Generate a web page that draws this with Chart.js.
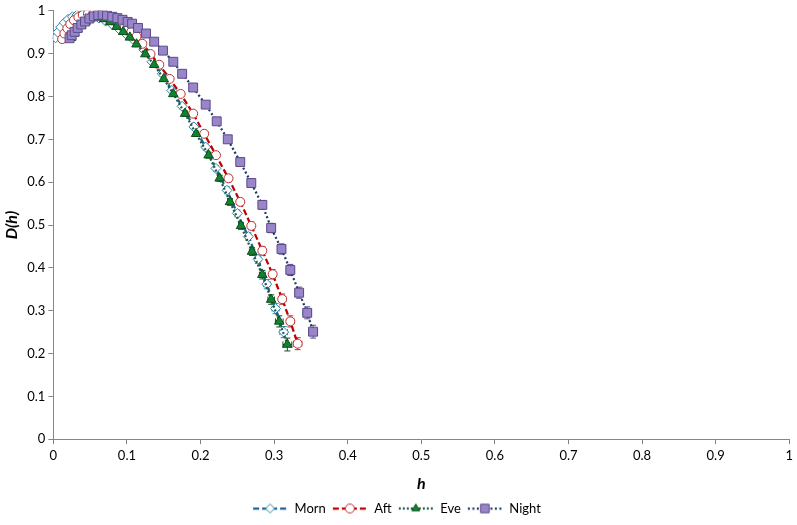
<!DOCTYPE html>
<html>
<head>
<meta charset="utf-8">
<script src="https://cdn.jsdelivr.net/npm/chart.js@4"></script>
<style>
  body { margin: 0; background: #fff; }
  #wrap { width: 797px; height: 525px; position: relative; }
</style>
</head>
<body>
<div id="wrap"><canvas id="chart"></canvas></div>
<script>
// values
const mornH = [0.003,0.006,0.010,0.015,0.020,0.026,0.032,0.039,0.046,0.054,0.062,0.071,0.080,0.089,0.098,0.108,0.123,0.134,0.148,0.161,0.175,0.191,0.207,0.221,0.236,0.250,0.265,0.278,0.290,0.302,0.313]
const mornD = [0.937,0.950,0.962,0.972,0.980,0.986,0.990,0.992,0.991,0.988,0.983,0.976,0.968,0.958,0.947,0.934,0.909,0.881,0.853,0.814,0.777,0.729,0.682,0.632,0.581,0.527,0.473,0.420,0.362,0.305,0.250]
const mornErr = [0.002,0.002,0.002,0.002,0.002,0.002,0.002,0.002,0.002,0.002,0.002,0.003,0.003,0.003,0.003,0.004,0.004,0.005,0.005,0.005,0.006,0.006,0.007,0.007,0.008,0.008,0.009,0.010,0.011,0.012,0.013]

const aftH = [0.012,0.015,0.019,0.023,0.028,0.034,0.040,0.047,0.054,0.062,0.070,0.079,0.088,0.097,0.106,0.113,0.121,0.132,0.144,0.158,0.173,0.190,0.205,0.221,0.238,0.254,0.269,0.284,0.298,0.311,0.322,0.332]
const aftD = [0.934,0.947,0.959,0.969,0.978,0.985,0.990,0.993,0.993,0.990,0.985,0.978,0.970,0.961,0.951,0.940,0.923,0.899,0.874,0.841,0.806,0.760,0.713,0.663,0.609,0.554,0.498,0.440,0.385,0.327,0.275,0.223]
const aftErr = [0.002,0.002,0.002,0.002,0.002,0.002,0.002,0.002,0.002,0.002,0.002,0.003,0.003,0.003,0.003,0.003,0.004,0.004,0.005,0.005,0.006,0.006,0.007,0.007,0.008,0.008,0.009,0.010,0.011,0.012,0.013,0.014]

const eveH = [0.024,0.028,0.033,0.038,0.044,0.050,0.056,0.062,0.069,0.077,0.086,0.095,0.104,0.113,0.125,0.137,0.150,0.163,0.179,0.194,0.211,0.226,0.240,0.255,0.270,0.284,0.296,0.307,0.318]
const eveD = [0.937,0.947,0.957,0.966,0.975,0.982,0.986,0.985,0.981,0.974,0.963,0.951,0.938,0.922,0.899,0.874,0.841,0.806,0.760,0.713,0.663,0.609,0.554,0.498,0.438,0.384,0.326,0.275,0.221]
const eveErr = [0.002,0.002,0.002,0.002,0.002,0.002,0.002,0.002,0.002,0.003,0.003,0.003,0.003,0.003,0.004,0.004,0.005,0.005,0.006,0.006,0.007,0.007,0.008,0.008,0.009,0.010,0.011,0.013,0.015]

const nightH = [0.022,0.025,0.029,0.033,0.038,0.043,0.049,0.055,0.061,0.067,0.073,0.080,0.087,0.094,0.101,0.107,0.115,0.126,0.137,0.149,0.163,0.175,0.190,0.207,0.222,0.237,0.254,0.269,0.284,0.296,0.310,0.322,0.334,0.345,0.353]
const nightD = [0.936,0.943,0.951,0.960,0.968,0.975,0.982,0.987,0.990,0.991,0.989,0.986,0.983,0.979,0.974,0.970,0.960,0.947,0.928,0.907,0.881,0.853,0.821,0.781,0.742,0.700,0.647,0.598,0.547,0.493,0.444,0.395,0.342,0.295,0.251]
const nightErr = [0.002,0.002,0.002,0.002,0.002,0.002,0.002,0.002,0.002,0.002,0.002,0.002,0.003,0.003,0.003,0.003,0.003,0.004,0.004,0.005,0.005,0.006,0.006,0.007,0.007,0.008,0.008,0.009,0.010,0.011,0.012,0.013,0.013,0.014,0.015]

const xTicks = [0, 0.1, 0.2, 0.3, 0.4, 0.5, 0.6, 0.7, 0.8, 0.9, 1]
const yTicks = [0, 0.1, 0.2, 0.3, 0.4, 0.5, 0.6, 0.7, 0.8, 0.9, 1]

const FONT = 'Lato, "Open Sans", sans-serif'

const toPoints = (hs, ds, errs) => hs.map((h, i) => ({ x: h, y: ds[i], e: errs[i] }))

// little picture of line + marker for the legend
function legendSample(lineColor, dash, style, fill, stroke) {
    let c = document.createElement('canvas')
    c.width = 36
    c.height = 14
    let g = c.getContext('2d')
    g.strokeStyle = lineColor
    g.lineWidth = 2.25
    g.setLineDash(dash)
    g.beginPath()
    g.moveTo(1, 7)
    g.lineTo(35, 7)
    g.stroke()
    g.setLineDash([])
    g.fillStyle = fill
    g.strokeStyle = stroke
    g.lineWidth = 1
    g.beginPath()
    Chart.helpers.drawPoint(g, { pointStyle: style, radius: style === 'rect' ? 6 : 4.5, borderWidth: 1 }, 18, 7)
    return c
}

const errorBars = {
    id: 'errorBars',
    beforeDatasetsDraw(chart) {
        const ctx = chart.ctx
        const xs = chart.scales.x
        const ys = chart.scales.y
        ctx.save()
        chart.data.datasets.forEach(function (ds) {
            ctx.strokeStyle = ds.pointBorderColor
            ctx.lineWidth = 1
            ds.data.forEach(function (p) {
                let px = xs.getPixelForValue(p.x)
                let py = ys.getPixelForValue(p.y)
                let top = ys.getPixelForValue(p.y + p.e)
                let bot = ys.getPixelForValue(p.y - p.e)
                let left = xs.getPixelForValue(p.x - p.e * 0.4)
                let right = xs.getPixelForValue(p.x + p.e * 0.4)
                ctx.beginPath()
                ctx.moveTo(px, top); ctx.lineTo(px, bot)
                ctx.moveTo(px - 3, top); ctx.lineTo(px + 3, top)
                ctx.moveTo(px - 3, bot); ctx.lineTo(px + 3, bot)
                ctx.moveTo(left, py); ctx.lineTo(right, py)
                ctx.moveTo(left, py - 3); ctx.lineTo(left, py + 3)
                ctx.moveTo(right, py - 3); ctx.lineTo(right, py + 3)
                ctx.stroke()
            })
        })
        ctx.restore()
    }
}

let morn = {
    label: 'Morn',
    data: toPoints(mornH, mornD, mornErr),
    borderColor: '#1F5F99',
    borderDash: [6, 3],
    pointStyle: 'rectRot',
    pointRadius: 5,
    pointBackgroundColor: '#ffffff',
    pointBorderColor: '#2E86A8',
    order: 4
}

let aft = {
    label: 'Aft',
    data: toPoints(aftH, aftD, aftErr),
    borderColor: '#C00000',
    borderDash: [6, 3],
    pointStyle: 'circle',
    pointRadius: 4.5,
    pointBackgroundColor: '#ffffff',
    pointBorderColor: '#C0302D',
    order: 3
}

let eve = {
    label: 'Eve',
    data: toPoints(eveH, eveD, eveErr),
    borderColor: '#1D5B45',
    borderDash: [2, 2],
    pointStyle: 'triangle',
    pointRadius: 5.5,
    pointBackgroundColor: '#11822E',
    pointBorderColor: '#0B4F1C',
    order: 2
}

let night = {
    label: 'Night',
    data: toPoints(nightH, nightD, nightErr),
    borderColor: '#1F3864',
    borderDash: [2, 2.5],
    pointStyle: 'rect',
    pointRadius: 6.3,
    pointBackgroundColor: '#9886C8',
    pointBorderColor: '#5B4A8C',
    order: 1
}

const sets = [morn, aft, eve, night]
sets.forEach(function (s) {
    s.showLine = true
    s.borderWidth = 2.25
    s.pointBorderWidth = 1
    s.pointHoverRadius = s.pointRadius
})

new Chart(document.getElementById('chart'), {
    type: 'scatter',
    data: { datasets: sets },
    plugins: [errorBars],
    options: {
        responsive: true,
        maintainAspectRatio: false,
        animation: false,
        layout: { padding: { top: 2, right: 6, left: 2, bottom: 0 } },
        plugins: {
            tooltip: { enabled: false },
            legend: {
                position: 'bottom',
                labels: {
                    usePointStyle: true,
                    pointStyleWidth: 36,
                    padding: 6,
                    color: '#000',
                    font: { family: FONT, size: 13 },
                    generateLabels(chart) {
                        return chart.data.datasets.map(function (ds, i) {
                            return {
                                text: ds.label,
                                datasetIndex: i,
                                hidden: false,
                                lineWidth: 0,
                                fontColor: '#000',
                                pointStyle: legendSample(ds.borderColor, ds.borderDash, ds.pointStyle, ds.pointBackgroundColor, ds.pointBorderColor)
                            }
                        })
                    }
                }
            }
        },
        scales: {
            x: {
                type: 'linear',
                min: 0,
                max: 1,
                afterBuildTicks(axis) { axis.ticks = xTicks.map(v => ({ value: v })) },
                ticks: {
                    color: '#000',
                    font: { family: FONT, size: 13 },
                    padding: 4,
                    callback: v => String(+v.toFixed(1))
                },
                grid: { drawOnChartArea: false, drawTicks: true, tickLength: 5, color: '#868686' },
                border: { color: '#868686', width: 1 },
                title: {
                    display: true,
                    text: 'h',
                    color: '#000',
                    font: { family: FONT, size: 16, weight: 'bold', style: 'italic' },
                    padding: { top: 6, bottom: 3 }
                }
            },
            y: {
                type: 'linear',
                min: 0,
                max: 1,
                afterBuildTicks(axis) { axis.ticks = yTicks.map(v => ({ value: v })) },
                ticks: {
                    color: '#000',
                    font: { family: FONT, size: 13 },
                    padding: 3,
                    callback: v => String(+v.toFixed(1))
                },
                grid: { drawOnChartArea: false, drawTicks: true, tickLength: 5, color: '#868686' },
                border: { color: '#868686', width: 1 },
                title: {
                    display: true,
                    text: 'D(h)',
                    color: '#000',
                    font: { family: FONT, size: 16, weight: 'bold', style: 'italic' },
                    padding: { top: 0, bottom: 3 }
                }
            }
        }
    }
});
</script>
</body>
</html>
